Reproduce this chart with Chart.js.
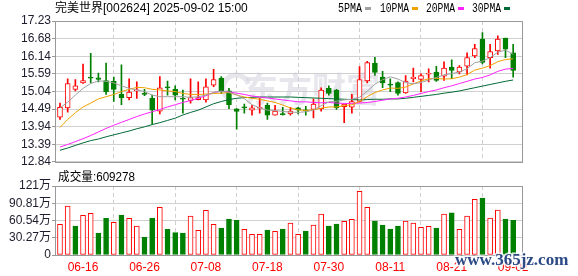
<!DOCTYPE html>
<html><head><meta charset="utf-8">
<script src="https://cdn.jsdelivr.net/npm/chart.js@4/dist/chart.umd.min.js"></script>
<style>
html,body{margin:0;padding:0;background:#fff;width:578px;height:276px;overflow:hidden}
#c1{position:absolute;left:0;top:0}
#c2{position:absolute;left:0;top:170px}
</style></head><body>
<canvas id="c1" width="578" height="170"></canvas>
<canvas id="c2" width="578" height="106"></canvas>
<script>
// ---------------- data ----------------
const titleText = '完美世界[002624] 2025-09-02 15:00';
const volLabelText = '成交量:609278';
const dates = ['06-11','06-12','06-13','06-16','06-17','06-18','06-19','06-20','06-23','06-24','06-25','06-26','06-27','06-30',
'07-01','07-02','07-03','07-04','07-07','07-08','07-09','07-10','07-11','07-14','07-15','07-16','07-17','07-18','07-21','07-22','07-23','07-24','07-25','07-28','07-29','07-30','07-31',
'08-01','08-04','08-05','08-06','08-07','08-08','08-11','08-12','08-13','08-14','08-15','08-18','08-19','08-20','08-21','08-22','08-25','08-26','08-27','08-28','08-29',
'09-01','09-02'];
const openP  = [14.23,14.52,15.10,15.30,15.48,15.46,15.37,15.35,14.94,14.84,15.05,14.96,14.82,14.42,15.18,15.10,14.81,14.75,14.78,14.77,
15.23,15.45,15.05,14.49,14.55,14.45,14.51,14.60,14.29,14.33,14.33,14.52,14.45,14.47,14.50,15.13,15.08,14.56,14.54,14.72,
15.36,15.92,15.48,15.25,15.31,14.99,15.43,15.41,15.57,15.64,15.51,15.79,15.64,15.82,16.14,16.67,16.09,16.30,16.70,16.24];
const closeP = [14.54,15.28,15.21,15.37,15.45,15.41,15.02,15.10,14.84,15.01,15.08,14.94,14.45,15.15,15.14,14.92,14.79,14.84,14.84,15.18,
15.40,15.05,14.62,14.41,14.52,14.52,14.53,14.29,14.42,14.31,14.42,14.45,14.43,14.64,15.08,14.97,14.52,14.64,14.72,15.40,
15.93,15.63,15.30,15.23,14.97,15.36,15.48,15.53,15.59,15.38,15.76,15.69,15.79,16.09,16.37,15.94,16.28,16.67,16.35,15.69];
const highP  = [14.67,15.43,15.40,15.89,16.22,15.61,15.92,15.48,15.86,15.43,15.33,15.10,14.92,15.50,15.36,15.21,15.08,15.43,15.33,15.43,
15.72,15.50,15.13,14.50,14.64,14.60,14.82,14.67,14.60,14.54,14.54,14.54,14.57,14.80,15.15,15.21,15.10,14.64,14.94,15.81,
15.97,16.10,15.66,15.43,15.33,15.53,15.76,15.58,15.74,15.82,15.96,16.02,15.84,16.24,16.50,16.87,16.50,16.77,16.70,16.50];
const lowP   = [14.16,14.39,15.05,15.28,15.30,15.33,14.94,14.72,14.62,14.77,14.82,14.90,14.01,14.33,14.92,14.77,14.36,14.67,14.77,14.70,
15.18,14.97,14.50,13.86,14.36,14.29,14.36,14.16,14.29,14.29,14.29,14.33,14.29,14.21,14.42,14.92,14.47,14.06,14.36,14.70,
15.30,15.53,15.15,15.03,14.92,14.97,15.33,15.03,15.33,15.35,15.38,15.43,15.58,15.55,16.09,15.89,15.76,16.19,16.09,15.48];
const ma5  = [14.52,14.70,14.92,15.13,15.28,15.36,15.35,15.30,15.21,15.13,15.08,15.03,14.92,14.87,14.87,14.87,14.87,14.85,14.87,14.92,
15.00,15.04,15.01,14.93,14.81,14.62,14.52,14.45,14.44,14.41,14.39,14.38,14.40,14.45,14.59,14.71,14.73,14.77,14.79,14.85,
15.04,15.26,15.40,15.49,15.42,15.31,15.27,15.31,15.39,15.47,15.55,15.59,15.64,15.74,15.93,15.98,16.09,16.26,16.32,16.19];
const ma10 = [13.91,14.16,14.37,14.55,14.67,14.80,14.87,14.94,15.03,15.10,15.16,15.15,15.10,15.08,15.05,15.03,14.97,14.94,14.94,14.95,
14.97,14.98,15.00,14.92,14.86,14.82,14.79,14.74,14.69,14.61,14.52,14.46,14.44,14.46,14.51,14.55,14.55,14.59,14.62,14.72,
14.87,15.00,15.08,15.14,15.13,15.17,15.27,15.36,15.43,15.44,15.42,15.43,15.48,15.56,15.70,15.76,15.84,15.96,16.03,16.05];
const ma20 = [13.30,13.38,13.47,13.56,13.66,13.77,13.88,13.98,14.07,14.16,14.25,14.33,14.40,14.47,14.55,14.62,14.69,14.75,14.82,14.90,
15.00,15.04,15.02,14.98,14.94,14.89,14.86,14.83,14.80,14.77,14.74,14.71,14.71,14.69,14.68,14.69,14.67,14.66,14.66,14.67,
14.69,14.72,14.76,14.80,14.82,14.86,14.91,14.97,15.03,15.08,15.15,15.21,15.28,15.35,15.42,15.47,15.55,15.66,15.73,15.75];
const ma30 = [13.20,13.27,13.35,13.43,13.50,13.55,13.62,13.68,13.74,13.80,13.87,13.93,14.00,14.06,14.13,14.20,14.30,14.38,14.45,14.55,
14.65,14.72,14.78,14.82,14.84,14.85,14.86,14.86,14.86,14.86,14.86,14.85,14.84,14.83,14.82,14.81,14.80,14.79,14.78,14.77,
14.78,14.79,14.79,14.80,14.80,14.82,14.85,14.88,14.91,14.94,14.98,15.01,15.05,15.10,15.15,15.20,15.25,15.30,15.35,15.39];
const volume = [53.8,85.9,50.9,69.6,73.1,38.6,64.3,57.3,70.1,64.3,50.9,31.6,64.3,83.6,45.0,39.2,38.6,68.4,43.3,78.3,
53.8,47.3,63.1,61.4,45.0,36.2,36.2,43.8,41.5,45.6,56.1,36.2,42.1,52.6,71.9,50.9,54.4,59.0,62.5,111.6,
83.6,59.6,52.6,45.6,50.9,59.6,56.1,48.5,50.3,47.3,71.9,74.2,45.0,68.4,97.6,100.0,64.9,78.9,63.1,60.93];
const priceTickLabels = ['12.84','13.39','13.94','14.49','15.04','15.59','16.14','16.68','17.23'];
const volTickLabels = ['0','30.27万','60.54万','90.81万','121万'];
const xTickLabels = ['06-16','06-26','07-08','07-18','07-30','08-11','08-21','09-02'];
const maNames = ['5PMA','10PMA','20PMA','30PMA'];
const priceMin = 12.84, priceMax = 17.23, volMin = 0, volMax = 121.08;

// ---------------- styling ----------------
const RED = '#ff0000', GREEN = '#008000';
const maColors = ['#a0a0a0','#f0a000','#ff22ff','#006a35'];
const X_MIN = -0.65, X_MAX = 60.15;
const tickPos = xTickLabels.map(l => dates.indexOf(l));
const isUp = dates.map((d,i) => closeP[i] >= openP[i]);
// volume colour follows the change against the previous close
const volUp = dates.map((d,i) => closeP[i] >= (i ? closeP[i-1] : openP[i]));
const tickFont = {family:'"Liberation Sans","Noto Sans CJK SC",sans-serif', size:12};

function xAxis(showLabels, h){
  return {
    type:'linear', min:X_MIN, max:X_MAX, offset:false,
    afterBuildTicks: ax => { ax.ticks = tickPos.map(v => ({value:v})); },
    afterFit: ax => { ax.height = h; },
    ticks:{display:showLabels, autoSkip:false, maxRotation:0, color:RED, font:tickFont, padding:5,
      callback:(v,i) => xTickLabels[i]},
    grid:{color:'#cfcfcf', drawTicks:false, lineWidth:1},
    border:{display:false, dash:[4,3]}
  };
}
function yAxis(min, max, labels){
  const n = labels.length - 1;
  return {
    type:'linear', min:min, max:max,
    afterBuildTicks: ax => { ax.ticks = labels.map((t,i) => ({value: min + i*(max-min)/n})); },
    afterFit: ax => { ax.width = 55; },
    ticks:{autoSkip:false, color:'#1c1c2c', font:tickFont, padding:1, callback:(v,i) => labels[i]},
    grid:{color:'#d0d0d0', tickLength:3, tickColor:'#999', lineWidth:1},
    border:{display:false}
  };
}
const framePlugin = {id:'frame', afterDraw(c){
  const a = c.chartArea, ctx = c.ctx;
  ctx.save(); ctx.strokeStyle = '#999'; ctx.lineWidth = 1;
  ctx.strokeRect(Math.round(a.left)+0.5, Math.round(a.top)+0.5, Math.round(a.right-a.left), Math.round(a.bottom-a.top));
  ctx.restore();
}};
const priceTexts = {id:'priceTexts',
  beforeDatasetsDraw(c){
    const ctx = c.ctx; ctx.save();
    const col = 'rgba(200,200,212,0.45)';
    ctx.strokeStyle = col; ctx.lineWidth = 5;
    ctx.beginPath(); ctx.arc(236, 88, 13, 0.6*Math.PI, 1.9*Math.PI); ctx.stroke();
    ctx.font = 'bold 34px "Noto Sans CJK SC"';
    ctx.fillStyle = col;
    ctx.textBaseline = 'middle';
    ctx.fillText('东方财富', 244, 89, 148);
    ctx.restore();
  },
  afterDraw(c){
    const ctx = c.ctx; ctx.save();
    ctx.textBaseline = 'middle'; ctx.fillStyle = '#000';
    ctx.font = '12px "Liberation Sans","Noto Sans CJK SC"';
    ctx.fillText(titleText, 55, 8.5, 198);
    const xs = [338, 380, 426, 472], ws = [24, 29, 29, 29];
    ctx.font = '12px "Liberation Mono"';
    maNames.forEach((n,i) => {
      ctx.fillStyle = '#000';
      ctx.fillText(n, xs[i], 8.5, ws[i]);
      ctx.fillStyle = maColors[i];
      ctx.fillRect(xs[i] + ws[i] + 3, 7, 6, 3);
    });
    ctx.restore();
  }};
const volTexts = {id:'volTexts', afterDraw(c){
  const ctx = c.ctx; ctx.save();
  ctx.textBaseline = 'middle'; ctx.fillStyle = '#000';
  ctx.font = '12px "Liberation Sans","Noto Sans CJK SC"';
  ctx.fillText(volLabelText, 58, 7.5, 77);
  ctx.font = 'bold 17px "Liberation Serif"';
  ctx.lineWidth = 3; ctx.strokeStyle = 'rgba(255,255,255,0.8)';
  ctx.strokeText('www.365jz.com', 455, 91, 115);
  ctx.fillStyle = '#2b4a86';
  ctx.fillText('www.365jz.com', 455, 91, 115);
  ctx.restore();
}};

const common = {responsive:false, animation:false, events:[], devicePixelRatio:1,
  plugins:{legend:{display:false}, tooltip:{enabled:false}, title:{display:false}}};

new Chart(document.getElementById('c1'), {
  type:'bar',
  data:{datasets:[
    ...[ma5,ma10,ma20,ma30].map((arr,k) => ({type:'line', label:maNames[k],
      data: arr.map((v,i) => ({x:i, y:v})), borderColor:maColors[k], borderWidth:1,
      pointRadius:0, tension:0, order:k})),
    {type:'bar', label:'body', data: dates.map((d,i) => ({x:i, y:[openP[i], closeP[i]]})),
      backgroundColor: isUp.map(u => u ? '#ffffff' : GREEN), borderColor: isUp.map(u => u ? RED : GREEN),
      borderWidth:1, borderSkipped:false, barThickness:5, grouped:false, minBarLength:1, order:10},
    {type:'bar', label:'wick', data: dates.map((d,i) => ({x:i, y:[lowP[i], highP[i]]})),
      backgroundColor: isUp.map(u => u ? RED : GREEN), borderWidth:0, barThickness:1, grouped:false, order:11}
  ]},
  options:{...common,
    layout:{padding:{top:21, right:56, bottom:5, left:0}},
    scales:{x: xAxis(false, 0), y: yAxis(priceMin, priceMax, priceTickLabels)}},
  plugins:[framePlugin, priceTexts]
});

new Chart(document.getElementById('c2'), {
  type:'bar',
  data:{datasets:[{label:'成交量', data: volume.map((v,i) => ({x:i, y:v})),
    backgroundColor: volUp.map(u => u ? '#ffffff' : GREEN), borderColor: volUp.map(u => u ? RED : GREEN),
    borderWidth:1, borderSkipped:false, barThickness:5}]},
  options:{...common,
    layout:{padding:{top:16, right:56, bottom:0, left:0}},
    scales:{x: xAxis(true, 21), y: yAxis(volMin, volMax, volTickLabels)}},
  plugins:[framePlugin, volTexts]
});
</script>
</body></html>
